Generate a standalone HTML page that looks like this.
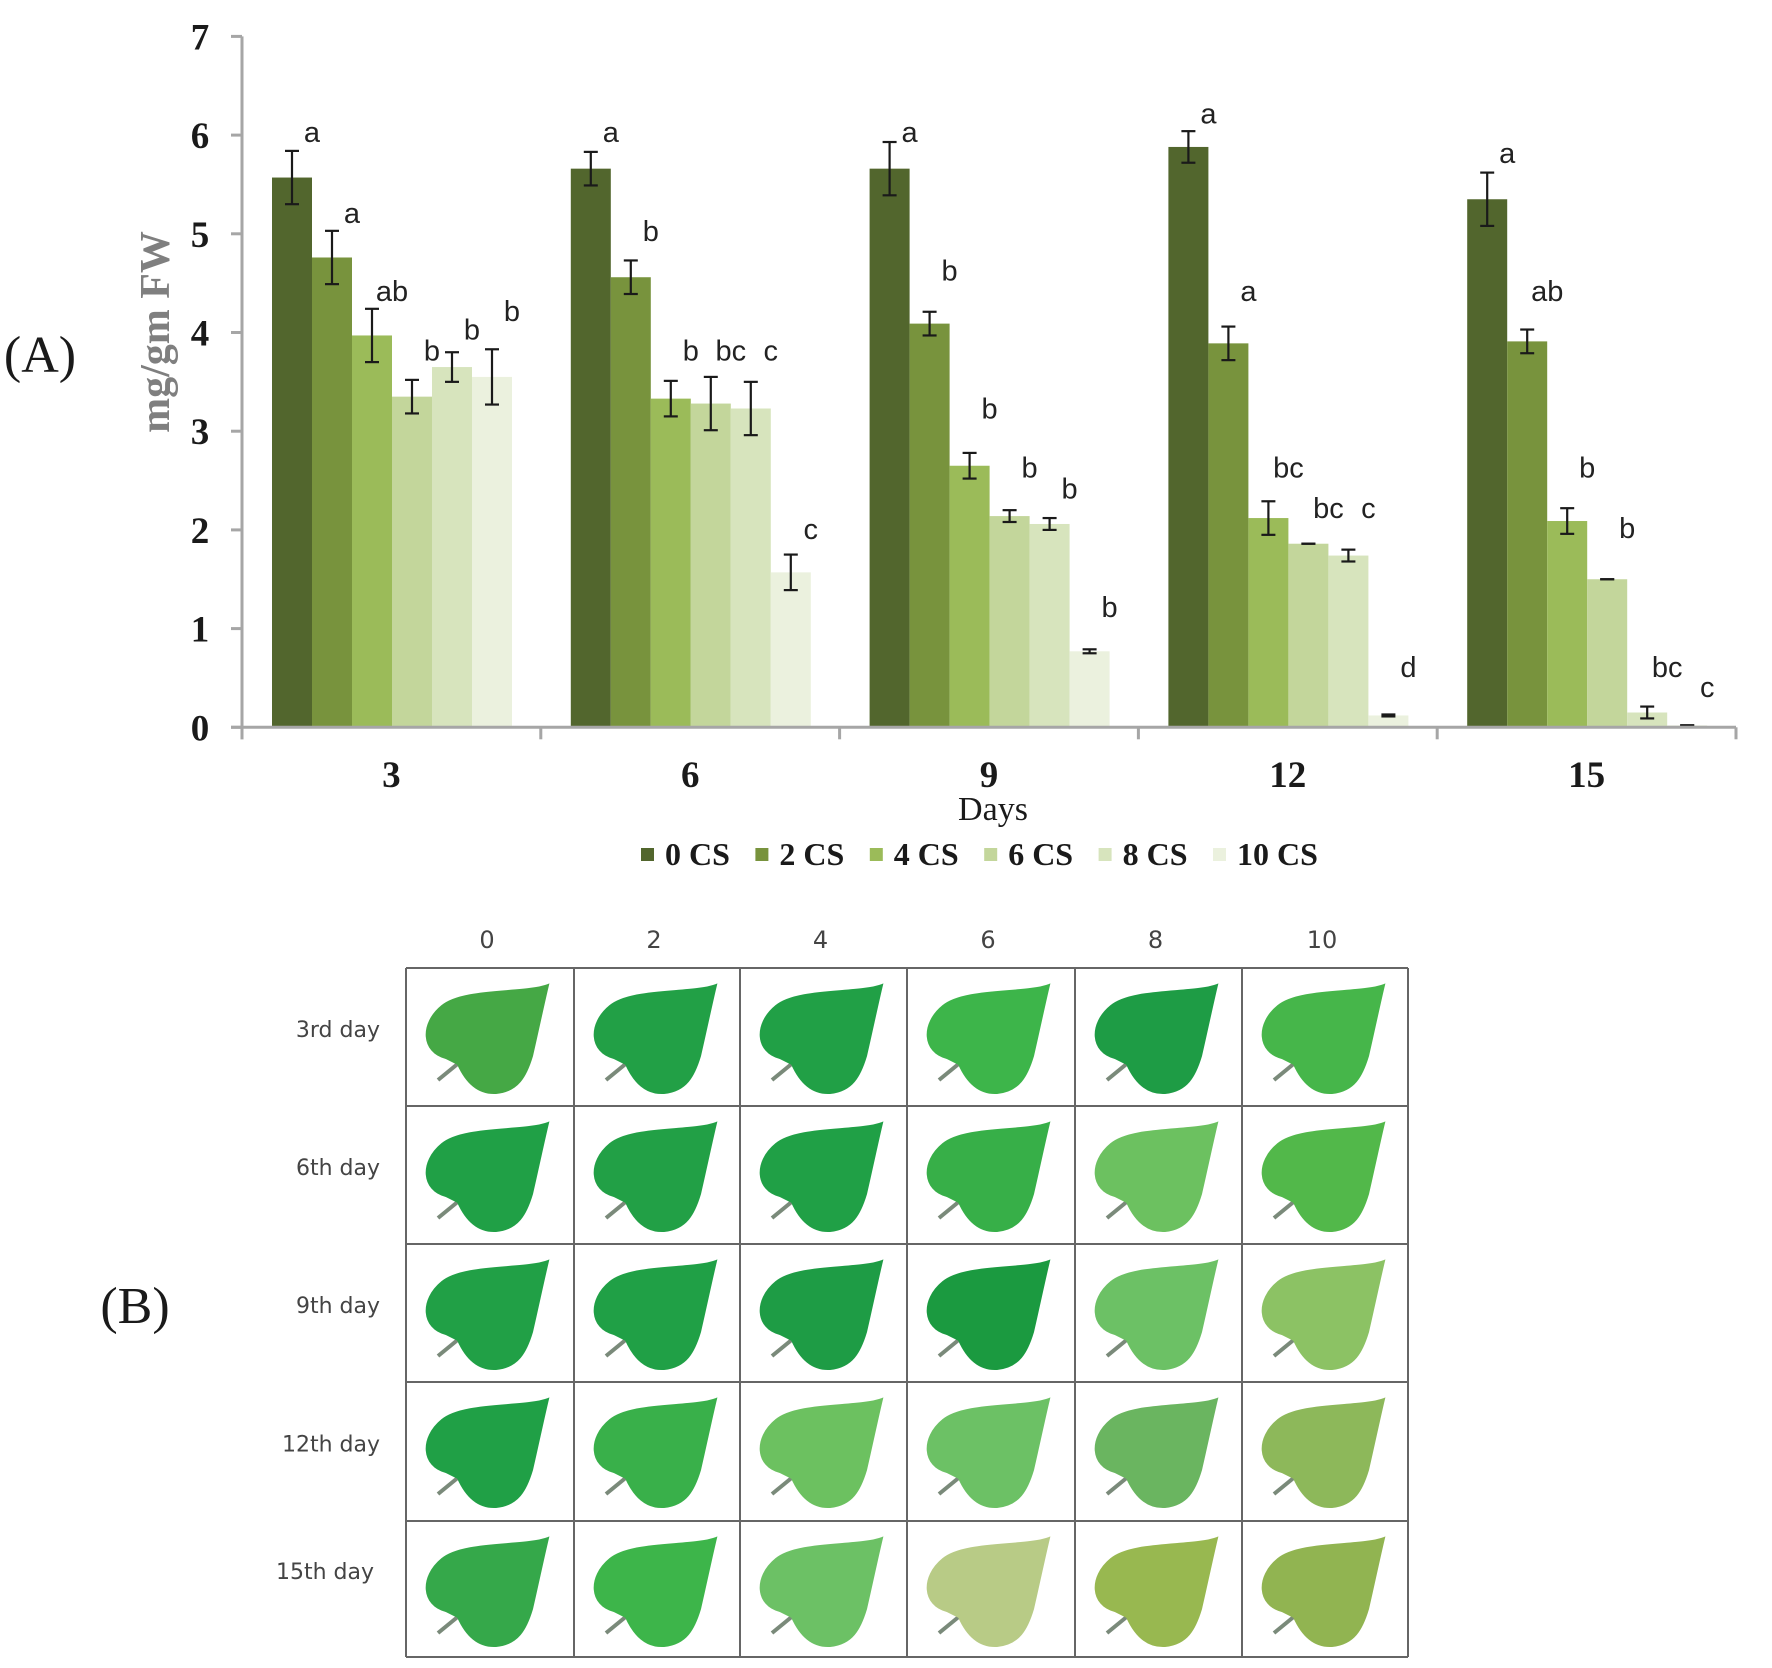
<!DOCTYPE html>
<html><head><meta charset="utf-8"><style>
html,body{margin:0;padding:0;background:#fff;}
svg{display:block;}
</style></head><body>
<svg id="fig" width="1772" height="1668" viewBox="0 0 1772 1668" xmlns="http://www.w3.org/2000/svg">
<g id="chart"></g>
<g id="panelB"></g>
</svg>
<script>
const categories = ["3","6","9","12","15"];
const seriesNames = ["0 CS","2 CS","4 CS","6 CS","8 CS","10 CS"];
const s0 = [5.57,5.66,5.66,5.88,5.35];
const s2 = [4.76,4.56,4.09,3.89,3.91];
const s4 = [3.97,3.33,2.65,2.12,2.09];
const s6 = [3.35,3.28,2.14,1.86,1.50];
const s8 = [3.65,3.23,2.06,1.74,0.15];
const s10 = [3.55,1.57,0.77,0.12,0.02];
const e0 = [0.27,0.17,0.27,0.16,0.27];
const e2 = [0.27,0.17,0.12,0.17,0.12];
const e4 = [0.27,0.18,0.13,0.17,0.13];
const e6 = [0.17,0.27,0.06,0,0];
const e8 = [0.15,0.27,0.06,0.06,0.06];
const e10 = [0.28,0.18,0.02,0.01,0];
const sig0 = ["a","a","a","a","a"];
const sig2 = ["a","b","b","a","ab"];
const sig4 = ["ab","b","b","bc","b"];
const sig6 = ["b","bc","b","bc","b"];
const sig8 = ["b","c","b","c","bc"];
const sig10 = ["b","c","b","d","c"];
const sigY0 = [6.03,6.03,6.03,6.22,5.82];
const sigY2 = [5.21,5.03,4.63,4.42,4.42];
const sigY4 = [4.42,3.82,3.23,2.63,2.63];
const sigY6 = [3.82,3.82,2.63,2.22,2.02];
const sigY8 = [4.03,3.82,2.42,2.22,0.61];
const sigY10 = [4.22,2.01,1.22,0.61,0.41];
const yTicks = [0,1,2,3,4,5,6,7];

const days = ["3rd day","6th day","9th day","12th day","15th day"];
const levels = ["0","2","4","6","8","10"];
const leafColors = [
 ["#45a845","#22a046","#21a046","#3db54a","#1e9c45","#46b64a"],
 ["#20a046","#22a046","#20a046","#37af48","#6cc160","#52b84a"],
 ["#21a046","#20a046","#1e9c45","#1b9a40","#6cc165","#8cc264"],
 ["#20a046","#39b04a","#6cc160","#6cc165","#6ab560","#8db85a"],
 ["#35a84a","#3db54a","#6cc165","#b8cb86","#98b850","#91b451"]
];

const NS="http://www.w3.org/2000/svg";
function mk(tag, attrs, parent){const e=document.createElementNS(NS,tag);for(const k in attrs)e.setAttribute(k,attrs[k]);parent.appendChild(e);return e;}
const SERIF='"Liberation Serif", serif';
const SANS='"Liberation Sans", sans-serif';
const DSANS='"DejaVu Sans", sans-serif';

const chart=document.getElementById('chart');
const X0=242, X1=1736, Y0=727.3, YMAX=7, YTOP=36.4;
const catW=(X1-X0)/categories.length;
const bw=40, groupOff=30;
function yS(v){return Y0-(v/YMAX)*(Y0-YTOP);}
function xBar(ci,si){return X0+ci*catW+groupOff+si*bw;}

const colors=["#52662d","#78933d","#9bbb59","#c3d69b","#d7e4bd","#ebf1de"];
const vals=[s0,s2,s4,s6,s8,s10];
const errs=[e0,e2,e4,e6,e8,e10];
const sigs=[sig0,sig2,sig4,sig6,sig8,sig10];
const sigYs=[sigY0,sigY2,sigY4,sigY6,sigY8,sigY10];

for(let si=0;si<vals.length;si++){
 for(let ci=0;ci<categories.length;ci++){
  const v=vals[si][ci];
  const r=mk('rect',{x:xBar(ci,si),y:yS(v),width:bw,height:Y0-yS(v),fill:colors[si]},chart);
  
  
 }
}
for(let si=0;si<vals.length;si++){
 for(let ci=0;ci<categories.length;ci++){
  const v=vals[si][ci], e=errs[si][ci];
  const cx=xBar(ci,si)+bw/2;
  const g=mk('g',{stroke:"#1a1a1a","stroke-width":2.2},chart);
  
  
  mk('line',{x1:cx,x2:cx,y1:yS(v+e),y2:yS(v-e)},g);
  mk('line',{x1:cx-7,x2:cx+7,y1:yS(v+e),y2:yS(v+e)},g);
  mk('line',{x1:cx-7,x2:cx+7,y1:yS(v-e),y2:yS(v-e)},g);
 }
}
for(let si=0;si<vals.length;si++){
 for(let ci=0;ci<categories.length;ci++){
  const t=mk('text',{x:xBar(ci,si)+bw,y:yS(sigYs[si][ci])+10,"font-family":SANS,"font-size":29,"text-anchor":"middle",fill:"#222"},chart);
  t.textContent=sigs[si][ci];
  
  
 }
}
const ax=mk('g',{stroke:"#a6a6a6","stroke-width":3,fill:"none"},chart);


mk('line',{x1:X0,x2:X0,y1:YTOP,y2:Y0+12},ax);
mk('line',{x1:X0-11,x2:X1,y1:Y0,y2:Y0},ax);
for(let i=0;i<=categories.length;i++){const x=X0+i*catW;mk('line',{x1:x,x2:x,y1:Y0,y2:Y0+12},ax);}
for(const t of yTicks){
 mk('line',{x1:X0-11,x2:X0,y1:yS(t),y2:yS(t)},ax);
 const l=mk('text',{x:200,y:yS(t)+13,"font-family":SERIF,"font-weight":"bold","font-size":37,"text-anchor":"middle",fill:"#1a1a1a"},chart);
 l.textContent=t;
 
 
}
categories.forEach((c,ci)=>{
 const l=mk('text',{x:X0+(ci+0.5)*catW,y:787,"font-family":SERIF,"font-weight":"bold","font-size":37,"text-anchor":"middle",fill:"#1a1a1a"},chart);
 l.textContent=c;
 
 
});
let t=mk('text',{x:993,y:820,"font-family":SERIF,"font-size":34,"text-anchor":"middle",fill:"#1a1a1a"},chart);
t.textContent="Days";


t=mk('text',{x:0,y:0,"font-family":SERIF,"font-weight":"bold","font-size":42,"text-anchor":"middle",fill:"#7f7f7f",transform:"translate(169,332) rotate(-90)"},chart);
t.textContent="mg/gm FW";


t=mk('text',{x:40,y:372,"font-family":SERIF,"font-size":52,"text-anchor":"middle",fill:"#1a1a1a"},chart);
t.textContent="(A)";


seriesNames.forEach((n,i)=>{
 const lx=641+i*114.4;
 const g=mk('g',{},chart);
 
 
 mk('rect',{x:lx,y:848,width:13,height:13,fill:colors[i]},g);
 const tt=mk('text',{x:lx+24,y:865,"font-family":SERIF,"font-weight":"bold","font-size":32,fill:"#1a1a1a"},g);
 tt.textContent=n;
});

const pb=document.getElementById('panelB');
const colX=[406,574,740,907,1075,1242,1408];
const rowY=[968,1106,1244,1382,1521,1657];
t=mk('text',{x:135,y:1323,"font-family":SERIF,"font-size":52,"text-anchor":"middle",fill:"#1a1a1a"},pb);
t.textContent="(B)";


levels.forEach((lv,i)=>{
 const h=mk('text',{x:(colX[i]+colX[i+1])/2-3,y:948,"font-family":DSANS,"font-size":24,"text-anchor":"middle",fill:"#444"},pb);
 h.textContent=lv;
 
 
});
days.forEach((d,r)=>{
 const h=mk('text',{x:r===4?374:380,y:(rowY[r]+rowY[r+1])/2+(r===4?-10:0),"font-family":DSANS,"font-size":22,"text-anchor":"end",fill:"#444"},pb);
 h.textContent=d;
 
 
});
const leafPath="M142,17 C118,26 58,20 36,38 C14,56 16,84 40,90 L52,96 C60,114 72,126 90,125 C112,123 120,108 126,88 C132,62 137,38 142,17 Z";
for(let r=0;r<5;r++){
 for(let c=0;c<6;c++){
  const g=mk('g',{transform:`translate(${colX[c]},${rowY[r]})`},pb);
  
  
  mk('line',{x1:32,y1:112,x2:54,y2:94,stroke:"#7a8a7a","stroke-width":4},g);
  mk('path',{d:leafPath,fill:leafColors[r][c],stroke:leafColors[r][c],"stroke-width":2},g);
 }
}
const gl=mk('g',{stroke:"#666","stroke-width":2,fill:"none"},pb);


colX.forEach(x=>mk('line',{x1:x,x2:x,y1:rowY[0],y2:rowY[5]},gl));
rowY.forEach(y=>mk('line',{x1:colX[0],x2:colX[6],y1:y,y2:y},gl));
</script>
</body></html>
